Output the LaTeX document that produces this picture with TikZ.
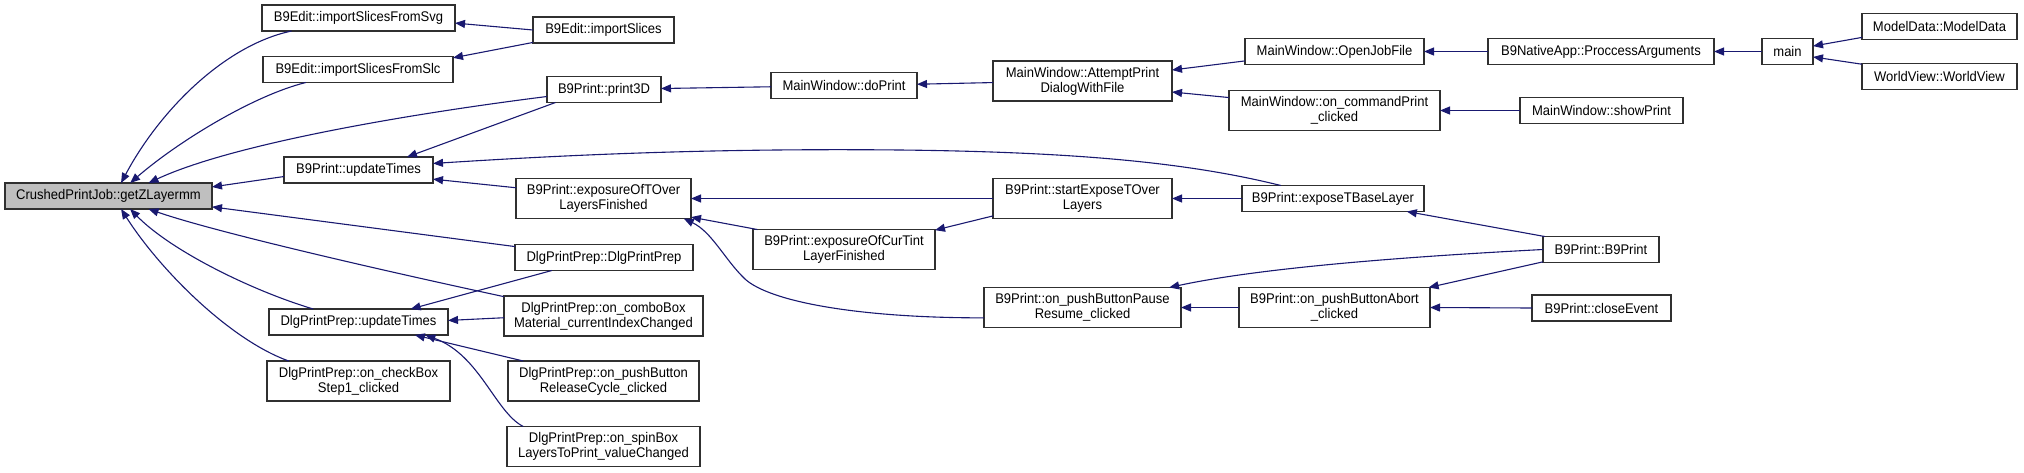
\documentclass[tikz,border=0pt]{standalone}
\usepackage{fontspec}
\setmainfont{Liberation Sans}[FakeStretch=0.93]
\usetikzlibrary{arrows.meta}
\definecolor{mblue}{HTML}{191970}
\definecolor{zgray}{HTML}{BFBFBF}
\definecolor{bline}{HTML}{303030}
\begin{document}
\begin{tikzpicture}[x=1pt,y=-1pt,
  box/.style={draw=bline, line width=1.1pt, fill=white, rectangle, inner sep=0pt, outer sep=0pt,
    align=center, font=\fontsize{14pt}{15pt}\selectfont},
  one/.style={minimum height=26pt},
  two/.style={minimum height=40pt},
  conn/.style={draw=mblue, line width=1.1pt, -{Triangle[length=10pt,width=8pt]}}]
\useasboundingbox (0,0) rectangle (2024,472);
% column 1
\node[box,one,fill=zgray,minimum width=207pt] (zl) at (108.5,196) {CrushedPrintJob::getZLayermm};
% column 2
\node[box,one,minimum width=193pt] (svg) at (358.5,18) {B9Edit::importSlicesFromSvg};
\node[box,one,minimum width=190pt] (slc) at (358,69.5) {B9Edit::importSlicesFromSlc};
\node[box,one,minimum width=149pt] (bput) at (358.5,170) {B9Print::updateTimes};
\node[box,one,minimum width=179pt] (dput) at (358.5,322) {DlgPrintPrep::updateTimes};
\node[box,two,minimum width=183pt] (chk) at (358.5,381) {DlgPrintPrep::on\_checkBox\\Step1\_clicked};
% column 3
\node[box,one,minimum width=141pt] (imp) at (603.5,30) {B9Edit::importSlices};
\node[box,one,minimum width=114pt] (p3d) at (604,89.5) {B9Print::print3D};
\node[box,two,minimum width=175pt] (eto) at (603.5,198.5) {B9Print::exposureOfTOver\\LayersFinished};
\node[box,one,minimum width=178pt] (dpp) at (604,257.5) {DlgPrintPrep::DlgPrintPrep};
\node[box,two,minimum width=199pt] (cmb) at (603.5,316) {DlgPrintPrep::on\_comboBox\\Material\_currentIndexChanged};
\node[box,two,minimum width=191pt] (push) at (603.5,381) {DlgPrintPrep::on\_pushButton\\ReleaseCycle\_clicked};
\node[box,two,minimum width=193pt] (spin) at (603.5,446.5) {DlgPrintPrep::on\_spinBox\\LayersToPrint\_valueChanged};
% column 4
\node[box,one,minimum width=146pt] (dop) at (844,85.5) {MainWindow::doPrint};
\node[box,two,minimum width=182pt] (ect) at (844,249.5) {B9Print::exposureOfCurTint\\LayerFinished};
% column 5
\node[box,two,minimum width=179pt] (att) at (1082.5,81) {MainWindow::AttemptPrint\\DialogWithFile};
\node[box,two,minimum width=179pt] (seto) at (1082.5,198.5) {B9Print::startExposeTOver\\Layers};
\node[box,two,minimum width=197pt] (pause) at (1082.5,307.5) {B9Print::on\_pushButtonPause\\Resume\_clicked};
% column 6
\node[box,one,minimum width=179pt] (ojf) at (1334.5,51.5) {MainWindow::OpenJobFile};
\node[box,two,minimum width=211pt] (cmdp) at (1334.5,110.5) {MainWindow::on\_commandPrint\\\_clicked};
\node[box,one,minimum width=182pt] (etbl) at (1333,198.5) {B9Print::exposeTBaseLayer};
\node[box,two,minimum width=191pt] (abort) at (1334.5,307.5) {B9Print::on\_pushButtonAbort\\\_clicked};
% column 7
\node[box,one,minimum width=226pt] (pa) at (1601,51.5) {B9NativeApp::ProccessArguments};
\node[box,one,minimum width=163pt] (showp) at (1601.5,110.5) {MainWindow::showPrint};
\node[box,one,minimum width=116pt] (b9) at (1601,249.5) {B9Print::B9Print};
\node[box,one,minimum width=139pt] (close) at (1601.5,308) {B9Print::closeEvent};
% column 8, 9
\node[box,one,minimum width=51pt] (main) at (1787.5,51.5) {main};
\node[box,one,minimum width=155pt] (md) at (1939.5,26.5) {ModelData::ModelData};
\node[box,one,minimum width=155pt] (wv) at (1939.5,76.5) {WorldView::WorldView};
% edges into getZLayermm
\draw[conn] (svg.191) .. controls (225,45) and (160,110) .. (zl.46);
\draw[conn] (slc.194.6) .. controls (255,95) and (180,140) .. (zl.31.2);
\draw[conn] (p3d.187.5) .. controls (400,115) and (230,145) .. (zl.18.2);
\draw[conn] (bput.185.7) -- (zl.5.5);
\draw[conn] (dpp.173.3) -- (zl.-6.1);
\draw[conn] (cmb.169.2) .. controls (380,270) and (215,232) .. (zl.-18.2);
\draw[conn] (dput.164.7) .. controls (250,290) and (170,250) .. (zl.-31.2);
\draw[conn] (chk.164.6) .. controls (230,340) and (160,270) .. (zl.-46.1);
% B9Edit
\draw[conn] (imp.180.8) -- (svg.-3.3);
\draw[conn] (imp.190.4) -- (slc.7.9);
% print chain
\draw[conn] (dop.181.2) -- (p3d.1.5);
\draw[conn] (p3d.195.9) -- (bput.15.3);
\draw[conn] (att.181.3) -- (dop.1.2);
\draw[conn] (ojf.186.8) -- (att.7.6);
\draw[conn] (cmdp.173.2) -- (att.-7.6);
\draw[conn] (pa.west) -- (ojf.east);
\draw[conn] (showp.west) -- (cmdp.east);
\draw[conn] (main.west) -- (pa.east);
\draw[conn] (md.188.4) -- (main.12.2);
\draw[conn] (wv.171.6) -- (main.-12.2);
% updateTimes callers
\draw[conn] (etbl.166) .. controls (1190,163) and (1080,152) .. (900,150) .. controls (700,148) and (550,156) .. (bput.5.4);
\draw[conn] (eto.173.5) -- (bput.-7.6);
% exposure chain
\draw[conn] (seto.west) -- (eto.east);
\draw[conn] (ect.167.8) -- (eto.-12.3);
\draw[conn] (pause.186.1) .. controls (860,318) and (770,302) .. (745,279) .. controls (725,260) and (712,232) .. (eto.-14.7);
\draw[conn] (etbl.west) -- (seto.east);
\draw[conn] (seto.191.4) -- (ect.12);
\draw[conn] (abort.west) -- (pause.east);
\draw[conn] (b9.west) .. controls (1400,257) and (1260,268) .. (pause.13.2);
\draw[conn] (b9.167.4) -- (etbl.-10);
\draw[conn] (b9.192.2) -- (abort.12.8);
\draw[conn] (close.west) -- (abort.east);
% DlgPrintPrep::updateTimes callers
\draw[conn] (dpp.194.6) -- (dput.14.7);
\draw[conn] (cmb.181.7) -- (dput.1.3);
\draw[conn] (push.166.5) -- (dput.-13.1);
\draw[conn] (spin.166.5) .. controls (495,412) and (480,355) .. (dput.-11.1);
\end{tikzpicture}
\end{document}
